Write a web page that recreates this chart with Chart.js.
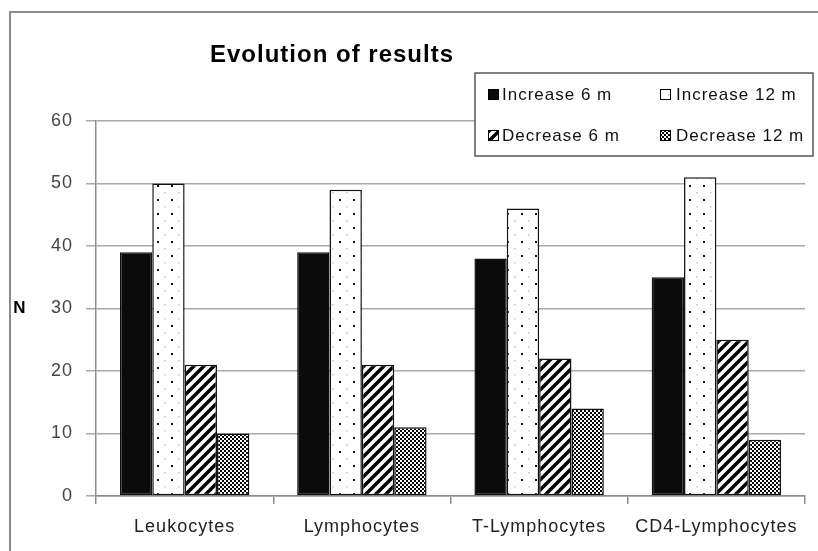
<!DOCTYPE html>
<html>
<head>
<meta charset="utf-8">
<title>Evolution of results</title>
<script src="https://cdn.jsdelivr.net/npm/chart.js@4.4.0/dist/chart.umd.min.js"></script>
<style>
  html, body { margin: 0; padding: 0; background: #fff; }
  canvas { display: block; }
</style>
</head>
<body>
<canvas id="resultsChart" width="818" height="551"></canvas>
<script>
const categories = ['Leukocytes', 'Lymphocytes', 'T-Lymphocytes', 'CD4-Lymphocytes'];
const increase6 = [39, 39, 38, 35];
const increase12 = [50, 49, 46, 51];
const decrease6 = [21, 21, 22, 25];
const decrease12 = [10, 11, 14, 9];
const seriesNames = ['Increase 6 m', 'Increase 12 m', 'Decrease 6 m', 'Decrease 12 m'];
const yTicks = [0, 10, 20, 30, 40, 50, 60];

const canvas = document.getElementById('resultsChart');

// small tiles used as bar fills
function makePattern(size, draw) {
    const tile = document.createElement('canvas');
    tile.width = size;
    tile.height = size;
    const g = tile.getContext('2d');
    g.fillStyle = '#fff';
    g.fillRect(0, 0, size, size);
    draw(g, size);
    return canvas.getContext('2d').createPattern(tile, 'repeat');
}

const solidFill = '#0b0b0b';
const dotFill = makePattern(14, (g) => {
    g.fillStyle = '#111';
    g.fillRect(3, 3, 2, 2);
    g.fillStyle = '#c4c4c4';
    g.fillRect(10, 10, 1.5, 1.5);
});
const stripeFill = makePattern(10, (g, s) => {
    g.strokeStyle = '#000';
    g.lineWidth = 3.5;
    g.beginPath();
    g.moveTo(-5, 5); g.lineTo(5, -5);
    g.moveTo(0, s); g.lineTo(s, 0);
    g.moveTo(5, 15); g.lineTo(15, 5);
    g.stroke();
});
const checkFill = makePattern(4, (g) => {
    g.fillStyle = '#000';
    g.fillRect(0, 0, 4, 4);
    g.fillStyle = '#fff';
    g.fillRect(0, 0, 2, 2);
    g.fillRect(2, 2, 2, 2);
});

const decorations = {
    id: 'decorations',
    beforeDraw(chart) {
        const ctx = chart.ctx;
        ctx.letterSpacing = '1px';
        ctx.save();
        ctx.strokeStyle = '#8c8c8c';
        ctx.lineWidth = 2;
        ctx.beginPath();
        ctx.moveTo(10, 551);
        ctx.lineTo(10, 12);
        ctx.lineTo(818, 12);
        ctx.stroke();
        ctx.restore();
    },
    afterDraw(chart) {
        const ctx = chart.ctx;
        ctx.save();
        ctx.fillStyle = '#000';
        ctx.textBaseline = 'middle';

        ctx.font = 'bold 24px "Liberation Sans", Arial, sans-serif';
        ctx.textAlign = 'center';
        ctx.fillText('Evolution of results', 332, 55);

        ctx.font = 'bold 17px "Liberation Sans", Arial, sans-serif';
        ctx.fillText('N', 20, 308);

        // legend box, 2 x 2
        ctx.fillStyle = '#fff';
        ctx.fillRect(475, 73, 338, 83);
        ctx.strokeStyle = '#555';
        ctx.lineWidth = 1.5;
        ctx.strokeRect(475, 73, 338, 83);

        const swatchX = [488, 660];
        const textX = [502, 676];
        const rowY = [95, 136];
        ctx.font = '17px "Liberation Sans", Arial, sans-serif';
        ctx.textAlign = 'left';
        chart.data.datasets.forEach((ds, i) => {
            const col = i % 2;
            const row = Math.floor(i / 2);
            ctx.fillStyle = ds.backgroundColor;
            ctx.fillRect(swatchX[col], rowY[row] - 6, 11, 11);
            ctx.strokeStyle = '#000';
            ctx.lineWidth = 1;
            ctx.strokeRect(swatchX[col] + 0.5, rowY[row] - 5.5, 10, 10);
            ctx.fillStyle = '#111';
            ctx.fillText(ds.label, textX[col], rowY[row]);
        });
        ctx.restore();
    }
};

Chart.defaults.font.family = '"Liberation Sans", Arial, sans-serif';

new Chart(canvas, {
    type: 'bar',
    data: {
        labels: categories,
        datasets: [
            { label: seriesNames[0], data: increase6, backgroundColor: solidFill },
            { label: seriesNames[1], data: increase12, backgroundColor: dotFill },
            { label: seriesNames[2], data: decrease6, backgroundColor: stripeFill },
            { label: seriesNames[3], data: decrease12, backgroundColor: checkFill },
        ].map(ds => Object.assign(ds, {
            borderColor: '#111',
            borderWidth: 1.5,
            borderSkipped: false,
            categoryPercentage: 0.73,
            barPercentage: 1.0,
        }))
    },
    options: {
        responsive: false,
        animation: false,
        devicePixelRatio: 1,
        layout: { padding: { left: 40, right: 13, top: 121, bottom: 0 } },
        plugins: {
            legend: { display: false },
            title: { display: false },
            tooltip: { enabled: false }
        },
        scales: {
            x: {
                grid: { offset: true, drawOnChartArea: false, tickLength: 8, color: '#8c8c8c', lineWidth: 1.5 },
                border: { color: '#8c8c8c', width: 1.5 },
                ticks: { color: '#222', font: { size: 18 }, padding: 12, maxRotation: 0, autoSkip: false },
                afterFit(scale) { scale.height = 55; }
            },
            y: {
                min: 0,
                max: 60,
                afterBuildTicks(scale) { scale.ticks = yTicks.map(v => ({ value: v })); },
                grid: { color: '#a8a8a8', lineWidth: 1.5, tickLength: 10 },
                border: { color: '#8c8c8c', width: 1.5 },
                ticks: { color: '#444', font: { size: 18 }, padding: 13 },
                afterFit(scale) { scale.width = 56; }
            }
        }
    },
    plugins: [decorations]
});
</script>
</body>
</html>
